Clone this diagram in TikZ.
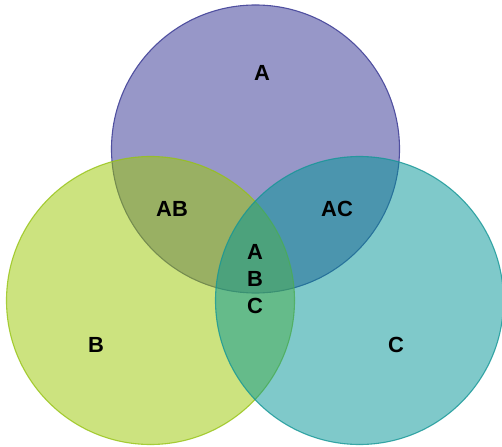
\documentclass[tikz,border=0pt]{standalone}
\usepackage{fontspec}
\setmainfont{Liberation Sans}
\definecolor{afill}{RGB}{151,151,200}
\definecolor{aline}{RGB}{80,80,160}
\definecolor{bfill}{RGB}{155,201,0}
\definecolor{bline}{RGB}{150,195,20}
\definecolor{cfill}{RGB}{0,149,150}
\definecolor{cline}{RGB}{20,150,150}
\begin{document}
\begin{tikzpicture}[x=1bp,y=-1bp,
  setcircle/.style={line width=1.1bp},
  lbl/.style={font=\bfseries\fontsize{22}{27}\selectfont, text=black, inner sep=0pt, align=center}]
\useasboundingbox (0,0) rectangle (502,447);
\fill[white] (0,0) rectangle (502,447);
\draw[setcircle, fill=afill, draw=aline] (255.5,149) circle[radius=144];
\draw[setcircle, fill=bfill, draw=bline, fill opacity=0.5, draw opacity=0.8] (150.5,300.5) circle[radius=144];
\draw[setcircle, fill=cfill, draw=cline, fill opacity=0.5, draw opacity=0.8] (359.5,300.5) circle[radius=144];
\node[lbl] (la) at (262,73) {A};
\node[lbl] (lab) at (172,209) {AB};
\node[lbl] (lac) at (337,209) {AC};
\node[lbl] (labc) at (255,279) {A\\B\\C};
\node[lbl] (lb) at (96,345) {B};
\node[lbl] (lc) at (396,345) {C};
\end{tikzpicture}
\end{document}
